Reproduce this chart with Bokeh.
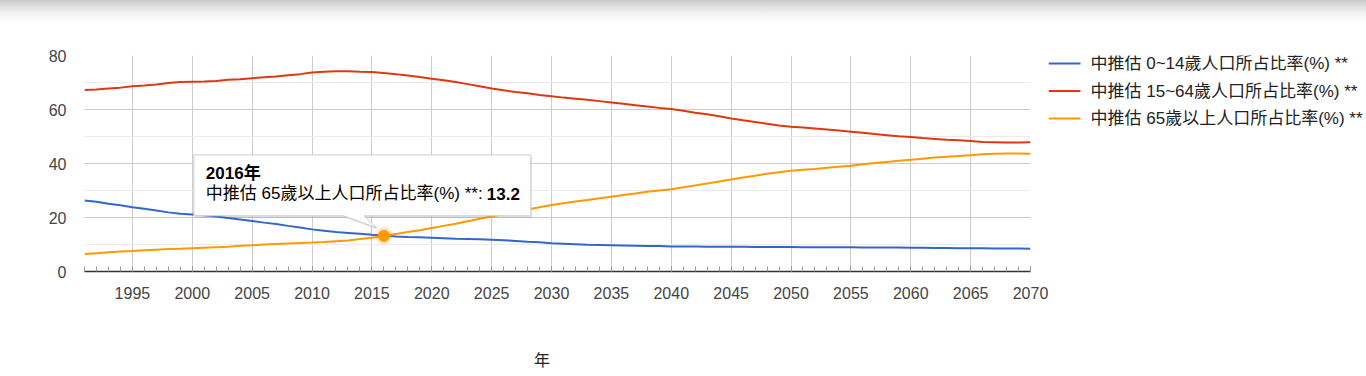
from bokeh.plotting import figure
from bokeh.layouts import row
from bokeh.models import Range1d, SingleIntervalTicker, GlobalInlineStyleSheet
from bokeh.core.properties import value
from bokeh.embed import file_html
from bokeh.resources import INLINE

# ---------------- data ----------------
years = list(range(1991, 2071))

age_0_14 = [
    26.3, 25.8, 25.1, 24.5, 23.8, 23.2, 22.6, 21.9, 21.4, 21.1,   # 1991-2000
    20.8, 20.4, 19.8, 19.3, 18.7, 18.1, 17.6, 16.9, 16.3, 15.6,   # 2001-2010
    15.1, 14.6, 14.3, 14.0, 13.6, 13.3, 13.0, 12.8, 12.7, 12.5,   # 2011-2020
    12.3, 12.1, 12.0, 11.9, 11.8, 11.6, 11.3, 11.0, 10.8, 10.5,   # 2021-2030
    10.3, 10.1, 9.9, 9.8, 9.7, 9.6, 9.5, 9.4, 9.4, 9.3,           # 2031-2040
    9.3, 9.3, 9.2, 9.2, 9.2, 9.2, 9.1, 9.1, 9.1, 9.1,             # 2041-2050
    9.0, 9.0, 9.0, 9.0, 9.0, 8.9, 8.9, 8.9, 8.9, 8.8,             # 2051-2060
    8.8, 8.7, 8.7, 8.6, 8.6, 8.6, 8.5, 8.5, 8.5, 8.4,             # 2061-2070
]

age_15_64 = [
    67.2, 67.4, 67.8, 68.1, 68.6, 68.9, 69.3, 69.8, 70.2, 70.3,   # 1991-2000
    70.4, 70.6, 71.0, 71.2, 71.6, 71.9, 72.2, 72.7, 73.1, 73.7,   # 2001-2010
    74.0, 74.2, 74.2, 74.0, 73.9, 73.5, 73.1, 72.6, 72.0, 71.4,   # 2011-2020
    70.8, 70.2, 69.4, 68.6, 67.8, 67.1, 66.5, 66.0, 65.4, 64.9,   # 2021-2030
    64.4, 64.0, 63.6, 63.1, 62.6, 62.1, 61.6, 61.1, 60.6, 60.2,   # 2031-2040
    59.5, 58.8, 58.2, 57.5, 56.7, 56.0, 55.4, 54.7, 54.1, 53.6,   # 2041-2050
    53.3, 53.0, 52.6, 52.2, 51.8, 51.4, 50.9, 50.5, 50.1, 49.8,   # 2051-2060
    49.4, 49.1, 48.8, 48.6, 48.3, 48.0, 47.9, 47.8, 47.8, 47.9,   # 2061-2070
]

age_65_plus = [
    6.5, 6.8, 7.1, 7.4, 7.6, 7.9, 8.1, 8.3, 8.4, 8.6,             # 1991-2000
    8.8, 9.0, 9.2, 9.5, 9.7, 10.0, 10.2, 10.4, 10.6, 10.7,        # 2001-2010
    10.9, 11.2, 11.5, 12.0, 12.5, 13.2, 13.9, 14.6, 15.3, 16.1,   # 2011-2020
    16.9, 17.7, 18.6, 19.5, 20.4, 21.3, 22.2, 23.0, 23.8, 24.6,   # 2021-2030
    25.3, 25.9, 26.5, 27.1, 27.7, 28.3, 28.9, 29.5, 30.0, 30.5,   # 2031-2040
    31.2, 31.9, 32.6, 33.3, 34.1, 34.8, 35.5, 36.2, 36.8, 37.3,   # 2041-2050
    37.7, 38.0, 38.4, 38.8, 39.2, 39.7, 40.2, 40.6, 41.0, 41.4,   # 2051-2060
    41.8, 42.2, 42.5, 42.8, 43.1, 43.4, 43.6, 43.7, 43.7, 43.6,   # 2061-2070
]

series_names = [
    "中推估 0~14歲人口所占比率(%) **",
    "中推估 15~64歲人口所占比率(%) **",
    "中推估 65歲以上人口所占比率(%) **",
]
series_colors = ["#3366cc", "#dc3912", "#ff9900"]

x_start, x_end = 1991, 2070
y_start, y_end = 0, 80
highlight_year = 2016
highlight_series = 2
x_title = "年"

FONT = "'Liberation Sans', 'Noto Sans CJK TC', sans-serif"

# ---------------- main chart ----------------
W1, H = 1048, 376
BL, BR, BT, BB = 84, 18, 55, 105
FW, FH = W1 - BL - BR, H - BT - BB

fig = figure(width=W1, height=H, output_backend="svg", toolbar_location=None,
             x_range=Range1d(x_start, x_end), y_range=Range1d(y_start, y_end),
             min_border_left=BL, min_border_right=BR, min_border_top=BT,
             min_border_bottom=BB)
fig.border_fill_color = None
fig.background_fill_color = "#ffffff"
fig.outline_line_color = None

fig.stylesheets = [GlobalInlineStyleSheet(css=(
    "body{background:linear-gradient(to bottom,#c8c8c8 0px,#e2e2e2 7px,"
    "#f4f4f4 14px,#ffffff 24px) no-repeat;background-size:100% 26px;}"))]

xt = SingleIntervalTicker(interval=5, num_minor_ticks=5)
yt = SingleIntervalTicker(interval=20, num_minor_ticks=2)

fig.xaxis.ticker = xt
fig.yaxis.ticker = yt
fig.xgrid.ticker = xt
fig.ygrid.ticker = yt
fig.xgrid.grid_line_color = "#cccccc"
fig.ygrid.grid_line_color = "#cccccc"
fig.ygrid.minor_grid_line_color = "#ebebeb"

for ax in (fig.xaxis, fig.yaxis):
    ax.major_label_text_font = FONT
    ax.major_label_text_font_size = "16px"
    ax.major_label_text_color = "#444444"
    ax.major_tick_out = 0

fig.xaxis.axis_line_color = "#333333"
fig.xaxis.axis_line_width = 1.5
fig.xaxis.major_tick_in = 5
fig.xaxis.major_tick_line_color = "#999999"
fig.xaxis.minor_tick_in = 5
fig.xaxis.minor_tick_out = 0
fig.xaxis.minor_tick_line_color = "#999999"
fig.xaxis.major_label_standoff = 15

# x title, nudged left by trailing non-breaking spaces
fig.xaxis.axis_label = x_title + "\u00a0" * 7
fig.xaxis.axis_label_text_font = FONT
fig.xaxis.axis_label_text_font_size = "16px"
fig.xaxis.axis_label_text_font_style = "normal"
fig.xaxis.axis_label_text_color = "#222222"
fig.xaxis.axis_label_standoff = 50

fig.yaxis.axis_line_color = None
fig.yaxis.major_tick_line_color = None
fig.yaxis.minor_tick_line_color = None
fig.yaxis.major_label_standoff = 14

all_series = [age_0_14, age_15_64, age_65_plus]
for vals, col in zip(all_series, series_colors):
    fig.line(years, vals, line_width=2, line_color=col)

# ---------------- tooltip (static) ----------------
sx = FW / (x_end - x_start)   # px per year
sy = FH / (y_end - y_start)   # px per unit

idx = years.index(highlight_year)
hx = highlight_year
hy = all_series[highlight_series][idx]
hcol = series_colors[highlight_series]

def ox(px):
    return hx + px / sx

def oy(px):
    return hy + px / sy

L, R, T, B = -190, 147, 81, 20
bl, br, tx, ty = -40, -20, -7, 8
poly = [(L, T), (R, T), (R, B), (br, B), (tx, ty), (bl, B), (L, B)]

fig.patch([ox(a + 1) for a, b in poly], [oy(b - 2) for a, b in poly],
          fill_color="#000000", fill_alpha=0.10, line_color=None)
fig.patch([ox(a) for a, b in poly], [oy(b) for a, b in poly],
          fill_color="#ffffff", line_color="#cccccc", line_width=1)

fig.text(x=[ox(-178)], y=[oy(62)], text=[f"{highlight_year}年"],
         text_font=value(FONT), text_font_size="17px", text_font_style="bold",
         text_color="#000000", text_baseline="middle", text_align="left")
fig.text(x=[ox(-178)], y=[oy(42)], text=[f"{series_names[highlight_series]}: "],
         text_font=value(FONT), text_font_size="17px",
         text_color="#000000", text_baseline="middle", text_align="left")
fig.text(x=[ox(103)], y=[oy(42)], text=[f"{hy}"],
         text_font=value(FONT), text_font_size="17px", text_font_style="bold",
         text_color="#000000", text_baseline="middle", text_align="left")

fig.scatter([hx], [hy], size=17, fill_color=hcol, fill_alpha=0.25, line_color=None)
fig.scatter([hx], [hy], size=11, fill_color=hcol, line_color=hcol)

# ---------------- legend panel ----------------
# The row aligns this figure's frame with the chart's frame (page y BT..H-BB),
# so map its y range to page pixels directly (y grows downwards).
W2 = 1366 - W1
side = figure(width=W2, height=H, output_backend="svg", toolbar_location=None,
              x_range=Range1d(0, W2), y_range=Range1d(H - BB, BT),
              x_axis_type=None, y_axis_type=None, min_border=0,
              min_border_left=0, min_border_right=0, min_border_top=BT,
              min_border_bottom=BB)
side.grid.visible = False
side.outline_line_color = None
side.border_fill_color = None
side.background_fill_color = None

LEG_TOP, LEG_PITCH, SAMPLE_W, TEXT_GAP = 63, 27.5, 32, 10
rows_y = [LEG_TOP + i * LEG_PITCH for i in range(len(series_names))]
side.segment(x0=[0] * len(rows_y), x1=[SAMPLE_W] * len(rows_y), y0=rows_y, y1=rows_y,
             line_color=series_colors, line_width=2)
side.text(x=[SAMPLE_W + TEXT_GAP] * len(rows_y), y=rows_y, text=series_names,
          text_font=value(FONT), text_font_size="17px", text_color="#222222",
          text_baseline="middle", text_align="left")

p = row(fig, side)

open("out.html", "w").write(file_html(p, INLINE))
